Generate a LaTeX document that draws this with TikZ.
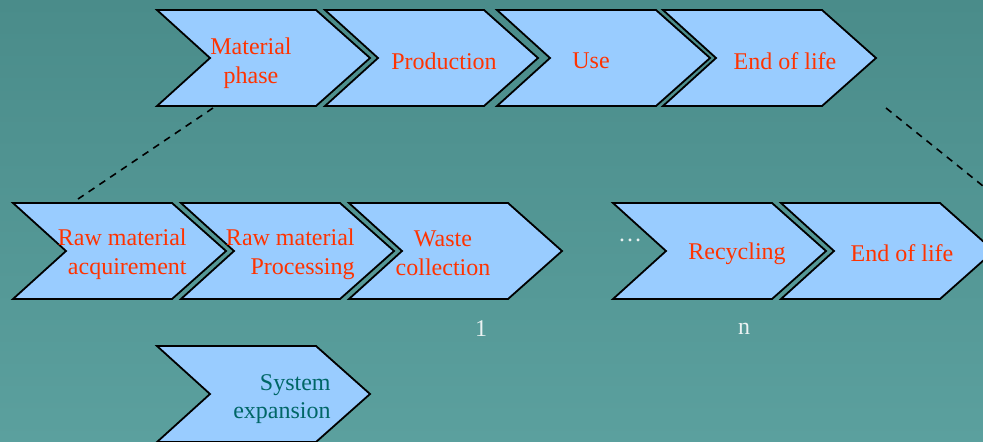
\documentclass[tikz,border=0pt]{standalone}
\usepackage{fontspec}
\setmainfont{Liberation Serif}
\usetikzlibrary{positioning}

\definecolor{bgtop}{RGB}{74,140,138}
\definecolor{bgbot}{RGB}{91,160,158}
\definecolor{chevfill}{RGB}{153,204,255}
\definecolor{phasered}{RGB}{255,51,0}
\definecolor{systeal}{RGB}{0,102,102}
\definecolor{softwhite}{RGB}{235,242,242}

% chevron: left x, top y (picture units are pixels, y downwards)
\newcommand{\chevron}[2]{%
  \draw[chevbox] (#1,#2) -- ++(159,0) -- ++(54,48) -- ++(-54,48)
    -- ++(-159,0) -- ++(53,-48) -- cycle;}

\begin{document}
\begin{tikzpicture}[
    x=0.5pt, y=-0.5pt,
    chevbox/.style={fill=chevfill, draw=black, line width=0.9pt, line join=miter},
    phase/.style={text=phasered, font=\fontsize{12}{14.3}\selectfont, inner sep=0pt},
    sysexp/.style={text=systeal, font=\fontsize{12}{14.3}\selectfont, inner sep=0pt},
    tag/.style={text=softwhite, font=\fontsize{12}{14.3}\selectfont, inner sep=0pt},
    zoomline/.style={draw=black, line width=0.8pt, dash pattern=on 3.5pt off 3pt}
]

\clip (0,0) rectangle (983,441);
\useasboundingbox (0,0) rectangle (983,441);
\shade[top color=bgtop, bottom color=bgbot] (0,0) rectangle (983,441);

% life cycle phases
\chevron{157}{10}
\chevron{325}{10}
\chevron{497}{10}
\chevron{663}{10}

\node[phase, align=center] (material) at (251,63) {Material\\phase};
\node[phase] (production) at (444,61) {Production};
\node[phase] (use) at (591,61) {Use};
\node[phase] (endtop) at (785,61) {End of life};

% material chain
\chevron{13}{203}
\chevron{181}{203}
\chevron{349}{203}
\chevron{613}{203}
\chevron{781}{203}

\node[phase, align=right, anchor=east] (rawacq) at (187,254) {Raw material\\acquirement};
\node[phase, align=right, anchor=east] (rawproc) at (355,254) {Raw material\\Processing};
\node[phase, align=center] (waste) at (443,253) {Waste\\collection};
\node[phase] (recycling) at (737,254) {Recycling};
\node[phase] (endbot) at (902,253) {End of life};

\node[tag] (dots) at (630,240) {\dots};
\node[tag] (first) at (481,329) {1};
\node[tag] (last) at (744,329) {n};

% system expansion
\chevron{157}{346}
\node[sysexp, align=right, anchor=east] (expansion) at (331,399) {System\\expansion};

% zoom lines
\coordinate (matfoot) at (213,108);
\coordinate (rawtop) at (78,199);
\coordinate (endfoot) at (886,108);
\coordinate (edge) at (983,186);
\draw[zoomline] (matfoot) -- (rawtop);
\draw[zoomline] (endfoot) -- (edge);

\end{tikzpicture}
\end{document}
